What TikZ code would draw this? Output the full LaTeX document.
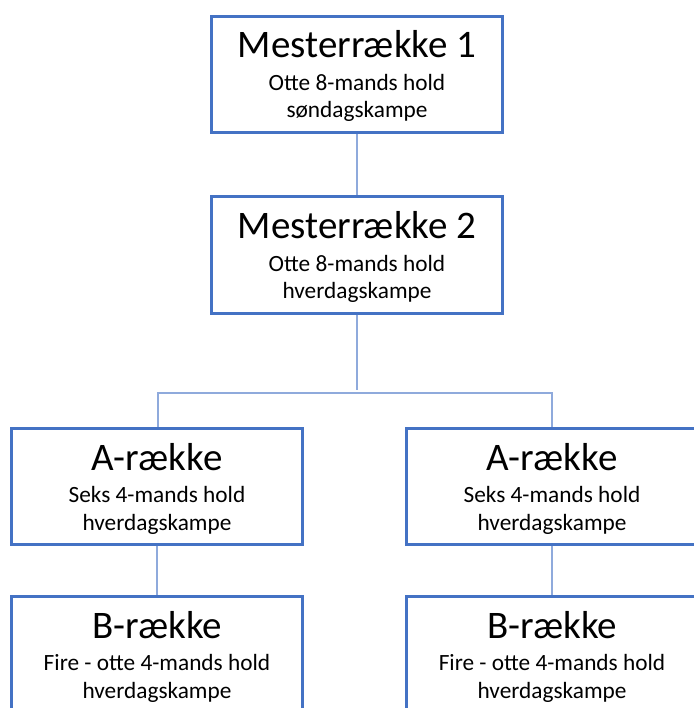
\documentclass[tikz,border=0pt]{standalone}
\usepackage{fontspec}
\setmainfont{Carlito}
\definecolor{boxblue}{HTML}{4472C4}
\definecolor{linkblue}{HTML}{8FAADC}
\begin{document}
\begin{tikzpicture}[x=1pt,y=-1pt,
  box/.style={draw=boxblue,line width=3pt,fill=white,rectangle,minimum width=291pt,minimum height=116pt,inner sep=0pt},
  ttl/.style={anchor=base,inner sep=0pt,font=\fontsize{39}{44}\selectfont},
  sub/.style={anchor=base,inner sep=0pt,font=\fontsize{23.3}{28}\selectfont},
  link/.style={draw=linkblue,line width=1.1pt}]
\useasboundingbox (0,0) rectangle (693,708);
\coordinate (hub) at (357,390);
\coordinate (barL) at (158,393);
\coordinate (barR) at (552,393);
\node[box] (m1) at (357,74.5) {};
\node[box] (m2) at (357,255) {};
\node[box] (al) at (157,486) {};
\node[box] (ar) at (552,486) {};
\node[box] (bl) at (157,654.5) {};
\node[box] (br) at (552,654.5) {};
\draw[link] (m1.south) -- (m2.north);
\draw[link] (m2.south) -- (hub);
\draw[link] (al.north -| barL) -- (barL) -- (barR) -- (ar.north -| barR);
\draw[link] (al.south) -- (bl.north);
\draw[link] (ar.south) -- (br.north);
\node[ttl] (m1t) at (357,58) {Mesterrække 1};
\node[sub] (m1a) at (357,91) {Otte 8-mands hold};
\node[sub] (m1b) at (357,118) {søndagskampe};
\node[ttl] (m2t) at (357,238.5) {Mesterrække 2};
\node[sub] (m2a) at (357,271.5) {Otte 8-mands hold};
\node[sub] (m2b) at (357,298.5) {hverdagskampe};
\node[ttl] (alt) at (157,470) {A-række};
\node[sub] (ala) at (157,502) {Seks 4-mands hold};
\node[sub] (alb) at (157,530) {hverdagskampe};
\node[ttl] (art) at (552,470) {A-række};
\node[sub] (ara) at (552,502) {Seks 4-mands hold};
\node[sub] (arb) at (552,530) {hverdagskampe};
\node[ttl] (blt) at (157,638) {B-række};
\node[sub] (bla) at (157,670) {Fire - otte 4-mands hold};
\node[sub] (blb) at (157,698) {hverdagskampe};
\node[ttl] (brt) at (552,638) {B-række};
\node[sub] (bra) at (552,670) {Fire - otte 4-mands hold};
\node[sub] (brb) at (552,698) {hverdagskampe};
\end{tikzpicture}
\end{document}
